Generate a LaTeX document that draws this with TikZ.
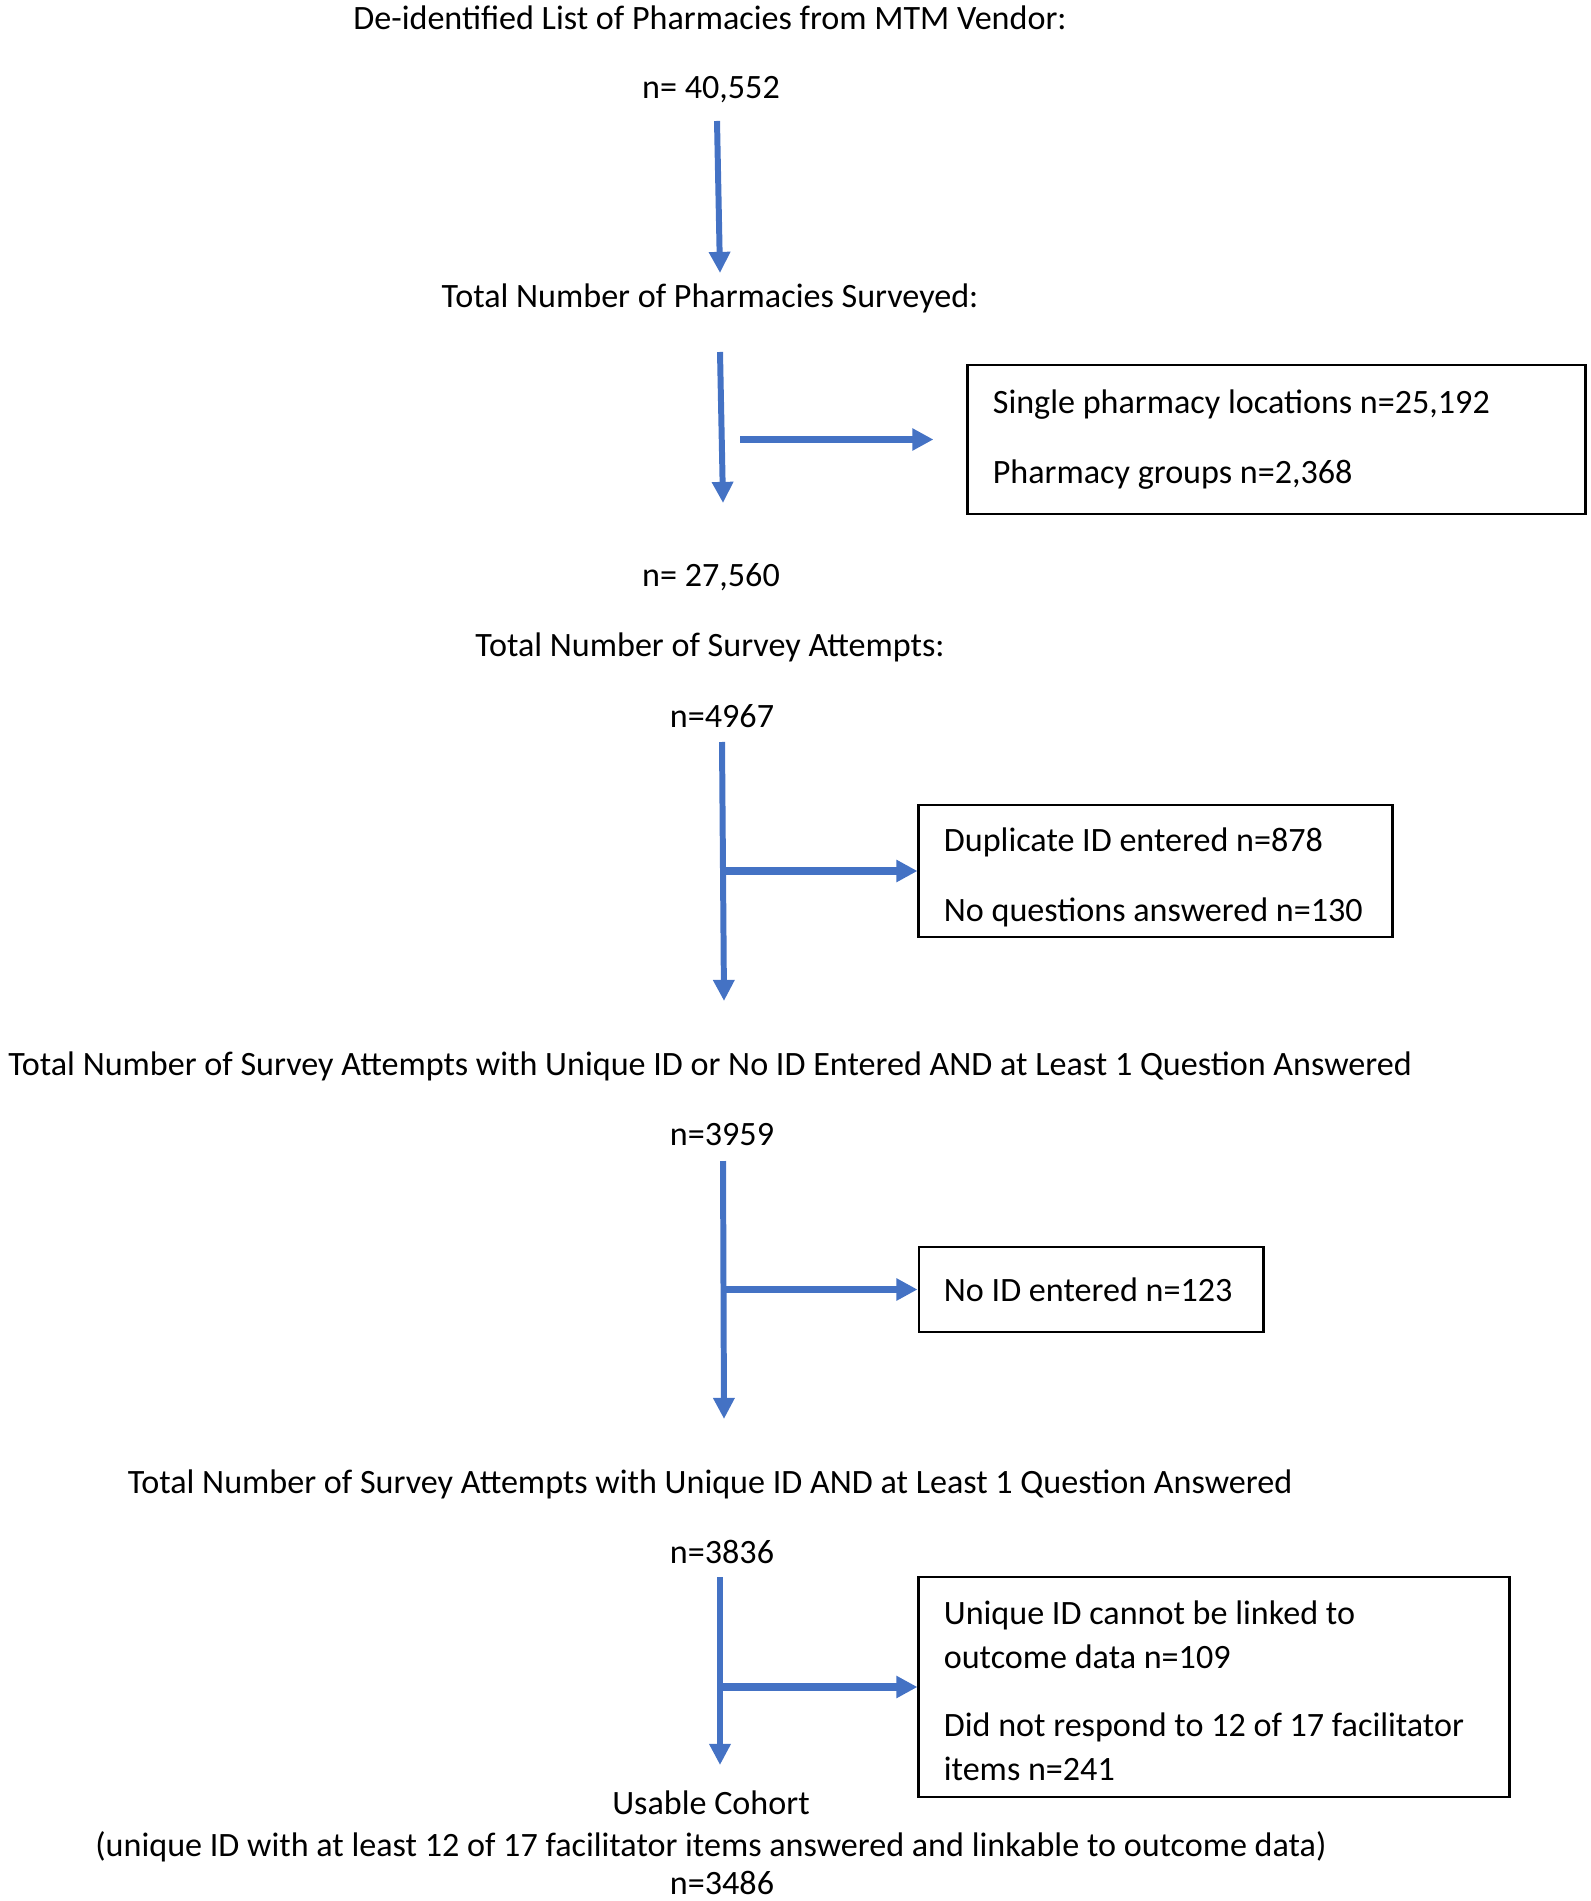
\documentclass[tikz,border=0pt]{standalone}
\usepackage{fontspec}
\setmainfont{Carlito}
\usetikzlibrary{arrows.meta}
\definecolor{flowblue}{HTML}{4472C4}
\tikzset{
	txt/.style={inner sep=0pt, text height=0.85em, text depth=0.17em},
	exclbox/.style={draw=black, line width=0.8pt, inner xsep=0.25cm, inner ysep=0pt, align=flush left},
	vflow/.style={draw=flowblue, line width=1.7pt, -{Triangle[length=6pt,width=5.8pt]}},
	hflow/.style={draw=flowblue, line width=2.1pt, -{Triangle[length=6pt,width=6pt]}},
}

\begin{document}
\begin{tikzpicture}[x=0.01cm, y=-0.01cm, every node/.style={font=\fontsize{9.7}{12.5}\selectfont}]
	%%%%% START %%%%%
	\useasboundingbox (0, 0) rectangle (1590, 1901);
	
	\node[txt] (list) at (710, 18) {De-identified List of Pharmacies from MTM Vendor:};
	\node[txt] (nlist) at (711, 87) {n= 40,552};
	
	\node[txt] (surv) at (710, 296) {Total Number of Pharmacies Surveyed:};
	\node[exclbox, text width=5.67cm, minimum height=1.49cm] (ex1) at (1276.5, 439.5)
		{Single pharmacy locations n=25,192\\[7.5pt]Pharmacy groups n=2,368};
	\node[txt] (nsurv) at (711, 575) {n= 27,560};
	
	\node[txt] (att) at (710, 645) {Total Number of Survey Attempts:};
	\node[txt] (natt) at (722, 716) {n=4967};
	\node[exclbox, text width=4.23cm, minimum height=1.32cm] (ex2) at (1155.5, 871)
		{\rule{0pt}{10.5pt}Duplicate ID entered n=878\\[7.5pt]No questions answered n=130};
	
	\node[txt] (uniq) at (710, 1064) {Total Number of Survey Attempts with Unique ID or No ID Entered AND at Least 1 Question Answered};
	\node[txt] (nuniq) at (722, 1134) {n=3959};
	\node[exclbox, text width=2.94cm, minimum height=0.85cm] (ex3) at (1091, 1289.5)
		{No ID entered n=123};
	
	\node[txt] (uid) at (710, 1482) {Total Number of Survey Attempts with Unique ID AND at Least 1 Question Answered};
	\node[txt] (nuid) at (722, 1552) {n=3836};
	\node[exclbox, text width=5.40cm, minimum height=2.20cm] (ex4) at (1214, 1687)
		{\rule{0pt}{8.8pt}Unique ID cannot be linked to\\outcome data n=109\\[7pt]Did not respond to 12 of 17 facilitator\\items n=241};
	
	\node[txt] (coh) at (711, 1803) {Usable Cohort};
	\node[txt] (cohdef) at (711, 1845) {(unique ID with at least 12 of 17 facilitator items answered and linkable to outcome data)};
	\node[txt] (ncoh) at (722, 1883) {n=3486};
	
	% arrow ends
	\coordinate (v1a) at (717, 121);  \coordinate (v1b) at (720, 273);
	\coordinate (v2a) at (720, 352);  \coordinate (v2b) at (723, 503);
	\coordinate (v3a) at (722, 742);  \coordinate (v3b) at (724, 1001);
	\coordinate (v4a) at (723, 1161); \coordinate (v4b) at (724, 1419);
	\coordinate (v5a) at (720, 1577); \coordinate (v5b) at (720, 1765);
	\coordinate (h1) at (740, 439.5);
	\coordinate (h2) at (723, 871);
	\coordinate (h3) at (724, 1289.5);
	\coordinate (h4) at (721, 1687);
	
	\draw[vflow] (v1a) -- (v1b);
	\draw[vflow] (v2a) -- (v2b);
	\draw[hflow, shorten >=0.33cm] (h1) -- (ex1.west);
	\draw[vflow] (v3a) -- (v3b);
	\draw[hflow] (h2) -- (ex2.west);
	\draw[vflow] (v4a) -- (v4b);
	\draw[hflow] (h3) -- (ex3.west);
	\draw[vflow] (v5a) -- (v5b);
	\draw[hflow] (h4) -- (ex4.west);
	
	%%%%% END %%%%%
\end{tikzpicture}
\end{document}
